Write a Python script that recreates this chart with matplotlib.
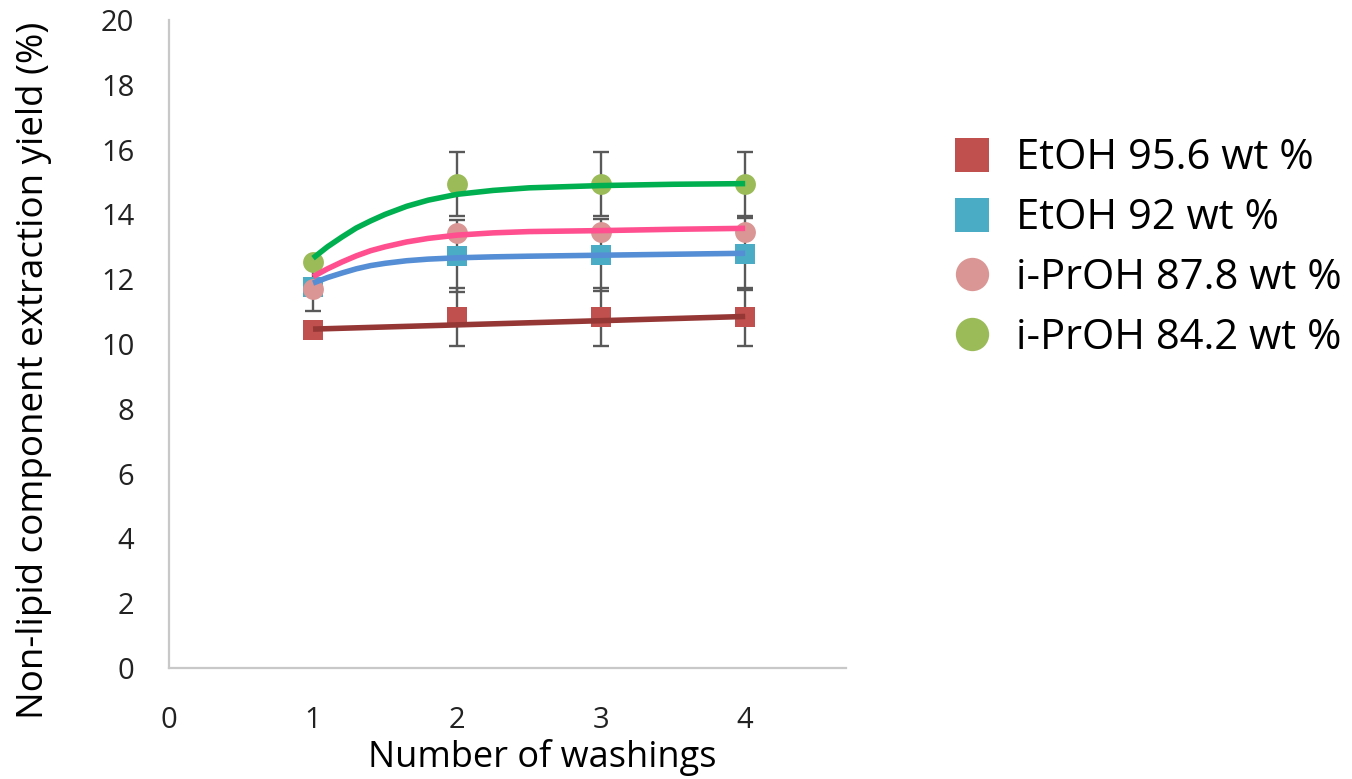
import matplotlib
matplotlib.use("Agg")
import matplotlib.pyplot as plt
from matplotlib.lines import Line2D

plt.rcParams['font.family'] = ['Open Sans', 'DejaVu Sans']

# ---- data ----
washings = [1, 2, 3, 4]
series_names = ["EtOH 95.6 wt %", "EtOH 92 wt %", "i-PrOH 87.8 wt %", "i-PrOH 84.2 wt %"]
etoh956 = [10.42, 10.83, 10.83, 10.83]
etoh92 = [11.77, 12.72, 12.75, 12.78]
iproh878 = [11.70, 13.42, 13.45, 13.47]
iproh842 = [12.53, 14.94, 14.94, 14.94]
err_etoh956 = [0.0, 0.9, 0.9, 0.9]
err_etoh92 = [0.75, 1.1, 1.1, 1.1]
err_iproh878 = [0.0, 0.0, 0.0, 0.0]
err_iproh842 = [0.0, 1.0, 1.0, 1.0]

# trend curves
trend_x = [1.0, 1.1, 1.2, 1.3, 1.4, 1.5, 1.65, 1.8, 2.0, 2.25, 2.5, 3.0, 3.5, 4.0]
trend_iproh842 = [12.65, 13.0, 13.3, 13.58, 13.8, 14.0, 14.25, 14.44, 14.62, 14.74, 14.82, 14.89, 14.93, 14.95]
trend_iproh878 = [12.08, 12.32, 12.53, 12.72, 12.88, 13.0, 13.15, 13.26, 13.36, 13.43, 13.47, 13.5, 13.54, 13.57]
trend_etoh92 = [11.88, 12.05, 12.19, 12.32, 12.42, 12.49, 12.57, 12.62, 12.66, 12.69, 12.71, 12.74, 12.77, 12.80]
trend_lin_x = [1.0, 4.0]
trend_etoh956 = [10.46, 10.85]

x_ticks = [0, 1, 2, 3, 4]
y_ticks = [0, 2, 4, 6, 8, 10, 12, 14, 16, 18, 20]

# ---- style ----
W, H = 1352, 779
fig = plt.figure(figsize=(W / 100, H / 100), dpi=100)
ax = fig.add_axes([169 / W, 1 - 668 / H, (846 - 169) / W, (668 - 20) / H])

mcol = ["#C0504D", "#4BACC6", "#DA9694", "#9BBB59"]
lcol = ["#953735", "#558ED5", "#FF4F8F", "#00B050"]
mk = ["s", "s", "o", "o"]
vals = [etoh956, etoh92, iproh878, iproh842]
errs = [err_etoh956, err_etoh92, err_iproh878, err_iproh842]

for v, e in zip(vals, errs):
    xs = [x for x, ee in zip(washings, e) if ee > 0]
    ys = [y for y, ee in zip(v, e) if ee > 0]
    es = [ee for ee in e if ee > 0]
    if xs:
        ax.errorbar(xs, ys, yerr=es, fmt="none", ecolor="#595959", elinewidth=1.7,
                    capsize=6, capthick=1.7, zorder=2)

for v, c, m in zip(vals, mcol, mk):
    ax.plot(washings, v, linestyle="none", marker=m, markersize=14.5 if m == "s" else 15,
            color=c, markeredgewidth=0, zorder=3)

lw = 4.0
ax.plot(trend_lin_x, trend_etoh956, color=lcol[0], lw=lw, zorder=4, solid_capstyle="butt")
ax.plot(trend_x, trend_etoh92, color=lcol[1], lw=lw, zorder=4, solid_capstyle="butt")
ax.plot(trend_x, trend_iproh878, color=lcol[2], lw=lw, zorder=4, solid_capstyle="butt")
ax.plot(trend_x, trend_iproh842, color=lcol[3], lw=lw, zorder=4, solid_capstyle="butt")

ax.set_xlim(0, 4.7)
ax.set_ylim(0, 20)
ax.set_xticks(x_ticks)
ax.set_yticks(y_ticks)
ax.tick_params(length=0, labelsize=21, colors="#222222")
ax.tick_params(axis="x", pad=27)
ax.tick_params(axis="y", pad=25)
for s in ["top", "right"]:
    ax.spines[s].set_visible(False)
for s in ["left", "bottom"]:
    ax.spines[s].set_color("#C8C8C8")
    ax.spines[s].set_linewidth(1.6)

ax.set_ylabel("Non-lipid component extraction yield (%)", fontsize=26.5, color="black")
ax.yaxis.set_label_coords((52 - 169) / 677, (668 - 370) / 648)
fig.text(542 / W, 1 - 758 / H, "Number of washings", fontsize=26, ha="center", va="center")

handles = [Line2D([], [], linestyle="none", marker=m, color=c, markersize=25 if m == "s" else 24,
                  markeredgewidth=0) for m, c in zip(mk, mcol)]
fig.legend(handles, series_names, loc="upper left", bbox_to_anchor=(922 / W, 1 - 108 / H),
           frameon=False, fontsize=30, handletextpad=0.55, labelspacing=0.43, handlelength=1.0,
           borderpad=0.2)

fig.savefig("out.png", dpi=100)
